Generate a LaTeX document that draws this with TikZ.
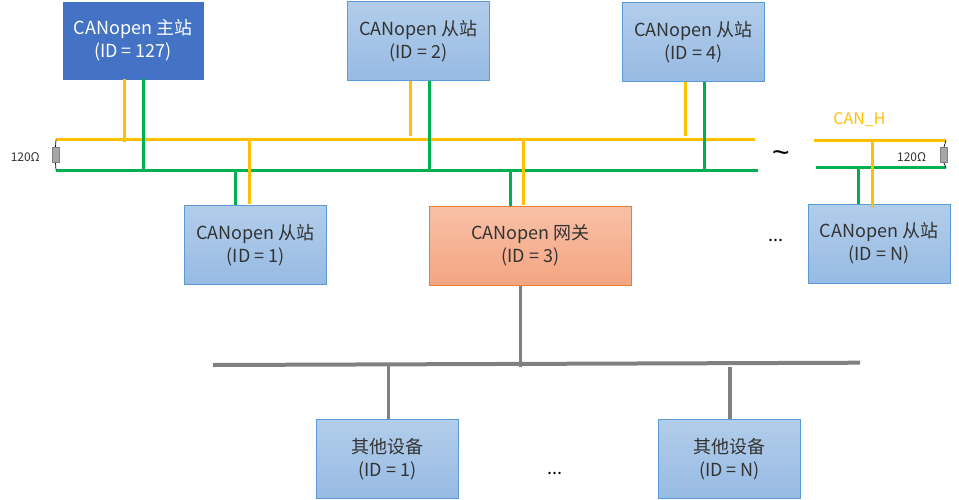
\documentclass[tikz,border=0pt]{standalone}
\usepackage{fontspec}
\setmainfont{Noto Sans CJK SC}
\newfontfamily\tildefont{Liberation Sans}
\definecolor{boxtop}{HTML}{B2CDEA}
\definecolor{boxbot}{HTML}{97BBE4}
\definecolor{boxline}{HTML}{5B9BD5}
\definecolor{gwtop}{HTML}{F8C0A6}
\definecolor{gwbot}{HTML}{F4A582}
\definecolor{gwline}{HTML}{ED7D31}
\definecolor{master}{HTML}{4472C4}
\definecolor{canh}{HTML}{FFC000}
\definecolor{canl}{HTML}{00B050}
\definecolor{graybus}{HTML}{808080}
\definecolor{txt}{HTML}{333333}
\definecolor{resfill}{HTML}{A6A6A6}
\begin{document}
\begin{tikzpicture}[x=1pt,y=-1pt,
  boxfont/.style={font=\fontsize{18}{23}\selectfont},
  devbox/.style={boxfont, draw=boxline, line width=0.9pt, top color=boxtop, bottom color=boxbot,
    minimum width=142pt, minimum height=79pt, align=center, text=txt, inner sep=0pt},
  gwbox/.style={devbox, draw=gwline, top color=gwtop, bottom color=gwbot, minimum width=202pt},
  masterbox/.style={boxfont, fill=master, draw=master, minimum width=140pt, minimum height=77pt,
    align=center, text=white, inner sep=0pt},
  hline/.style={canh, line width=3pt},
  lline/.style={canl, line width=3pt},
  gline/.style={graybus, line width=3.5pt},
  resbox/.style={fill=resfill, draw=graybus, line width=0.6pt},
  reswire/.style={black, line width=0.7pt},
  small/.style={font=\fontsize{12}{14}\selectfont, text=txt, inner sep=0pt}
]
\useasboundingbox (0,0) rectangle (959,499);

% nodes
\node[masterbox] (m) at (133,40.5) {CANopen 主站\\(ID = 127)};
\node[devbox] (s2) at (418.5,41) {CANopen 从站\\(ID = 2)};
\node[devbox] (s4) at (693.5,41.8) {CANopen 从站\\(ID = 4)};
\node[devbox] (s1) at (255.7,244.7) {CANopen 从站\\(ID = 1)};
\node[gwbox] (gw) at (530.3,245.7) {CANopen 网关\\(ID = 3)};
\node[devbox] (sn) at (879,243.5) {CANopen 从站\\(ID = N)};
\node[devbox] (o1) at (387.5,458.8) {其他设备\\(ID = 1)};
\node[devbox] (on) at (729.5,458.7) {其他设备\\(ID = N)};

% bus coordinates
\coordinate (hl) at (56,139.5);
\coordinate (hr) at (755,139.5);
\coordinate (ll) at (56,170);
\coordinate (lr) at (757.5,170);
\coordinate (hl2) at (814,140.3);
\coordinate (hr2) at (946,140.3);
\coordinate (ll2) at (816,167.5);
\coordinate (lr2) at (946,167.5);
\coordinate (gl) at (213,365);
\coordinate (gr) at (860,362.7);

% CAN bus lines
\draw[hline] (hl) -- (hr);
\draw[lline] (ll) -- (lr);
\draw[hline] (hl2) -- (hr2);
\draw[lline] (ll2) -- (lr2);

% drops to upper devices
\draw[hline] (m.south -| 124.3,0) -- (124.3,141.5);
\draw[lline] (m.south -| 143.3,0) -- (143.3,170);
\draw[hline] (s2.south -| 410.3,0) -- (410.3,135.7);
\draw[lline] (s2.south -| 429.3,0) -- (429.3,170);
\draw[hline] (s4.south -| 685.3,0) -- (685.3,136);
\draw[lline] (s4.south -| 704.3,0) -- (704.3,170);

% drops to lower devices
\draw[lline] (235,170) -- (s1.north -| 235,0);
\draw[hline] (249.3,138) -- (249.3,203.5);
\draw[lline] (510.3,170) -- (gw.north -| 510.3,0);
\draw[hline] (523.3,139) -- (523.3,205);
\draw[lline] (858,167.5) -- (sn.north -| 858,0);
\draw[hline] (872,140.3) -- (872,207);

% resistors
\node[resbox, minimum width=7pt, minimum height=15.5pt, inner sep=0pt] (r1) at (55.5,155) {};
\draw[reswire] (hl) -- (r1.north);
\draw[reswire] (r1.south) -- (ll);
\node[resbox, minimum width=7pt, minimum height=15.5pt, inner sep=0pt] (r2) at (944,155) {};
\draw[reswire] (hr2) -- (r2.north);
\draw[reswire] (r2.south) -- (lr2);
\node[small] (t1) at (25.3,156.7) {120Ω};
\node[small] (t2) at (911.7,156.7) {120Ω};

% labels
\node[font=\fontsize{16}{18}\selectfont, text=canh, inner sep=0pt] (canhl) at (859.5,119.3) {CAN\_H};
\node[font=\tildefont\fontsize{30}{32}\selectfont, text=black, inner sep=0pt] (tilde) at (781,157) {\char"007E};
\node[boxfont, text=black, inner sep=0pt, anchor=base] (dots1) at (775.5,241) {...};
\node[boxfont, text=black, inner sep=0pt, anchor=base] (dots2) at (554.7,474.5) {...};

% gray sub-bus
\draw[gline, line width=4pt] (gl) -- (gr);
\draw[gline] (gw.south -| 520.5,0) -- (520.5,366.5);
\draw[gline] (388.3,366) -- (o1.north -| 388.3,0);
\draw[gline] (730,367.3) -- (on.north -| 730,0);
\end{tikzpicture}
\end{document}
